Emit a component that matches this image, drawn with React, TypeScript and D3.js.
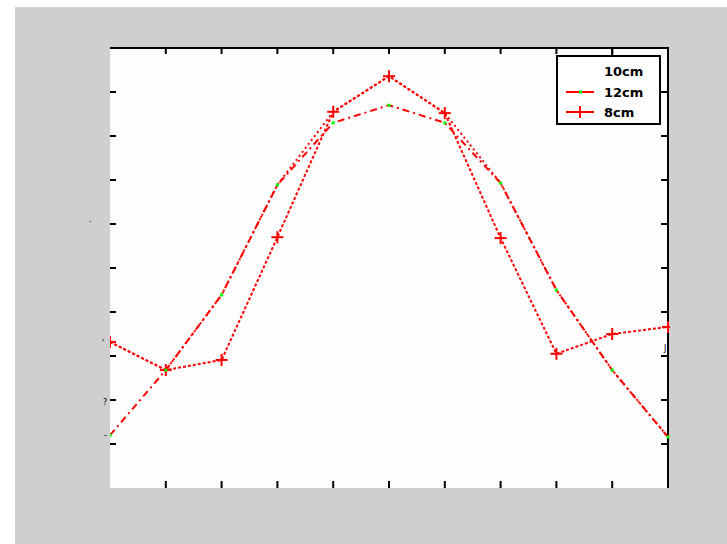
import React from "react";
import * as d3 from "d3";

const xIndex = [0, 1, 2, 3, 4, 5, 6, 7, 8, 9, 10];
const series10cm = [3.32, 2.68, 4.39, 6.89, 8.55, 9.36, 8.52, 6.93, 4.5, 2.68, 1.16];
const series12cm = [1.2, 2.68, 4.39, 6.89, 8.3, 8.7, 8.3, 6.93, 4.5, 2.68, 1.16];
const series8cm = [3.32, 2.68, 2.91, 5.7, 8.55, 9.36, 8.52, 5.68, 3.05, 3.5, 3.66];
const legendLabels = ["10cm", "12cm", "8cm"];
const yTicks = [1, 2, 3, 4, 5, 6, 7, 8, 9];
const xTicks = [1, 2, 3, 4, 5, 6, 7, 8, 9, 10];

export default function App() {
  const W = 727, H = 544;
  const L = 110, R = 668, T = 48, B = 488;
  const x = d3.scaleLinear().domain([0, 10]).range([L, R]);
  const y = d3.scaleLinear().domain([0, 10]).range([B, T]);
  const line = d3
    .line<number>()
    .x((_, i) => x(xIndex[i]))
    .y((d) => y(d));
  const red = "#ff0000";
  const plus = (cx: number, cy: number, k: string, s = 6) => (
    <g key={k} stroke={red} strokeWidth={2}>
      <line x1={cx - s} x2={cx + s} y1={cy} y2={cy} />
      <line x1={cx} x2={cx} y1={cy - s} y2={cy + s} />
    </g>
  );
  const lgX = 557, lgY = 56, lgW = 103, lgH = 68;
  const rows = [71, 92, 112];
  return (
    <svg
      width={W}
      height={H}
      style={{ position: "absolute", left: 0, top: 0, display: "block" }}
    >
      <rect x={0} y={0} width={W} height={H} fill="#ffffff" />
      <rect x={15} y={7} width={W - 15} height={H - 7} fill="#cfcfcf" />
      <rect x={L} y={T} width={R - L} height={B - T} fill="#fdfdfd" />
      <defs>
        <clipPath id="plotclip">
          <rect x={L} y={T} width={R - L + 2} height={B - T} />
        </clipPath>
      </defs>
      {/* axes */}
      <line x1={L} x2={R + 1} y1={T} y2={T} stroke="#000" strokeWidth={2} />
      <line x1={R} x2={R} y1={T} y2={B} stroke="#000" strokeWidth={2} />
      {xTicks.map((t) => (
        <g key={"xt" + t} stroke="#000" strokeWidth={2}>
          <line x1={x(t)} x2={x(t)} y1={T} y2={T + 6} />
          <line x1={x(t)} x2={x(t)} y1={B} y2={B - 7} />
        </g>
      ))}
      {yTicks.map((t) => (
        <g key={"yt" + t} stroke="#000" strokeWidth={2}>
          <line x1={L} x2={L + 6} y1={y(t)} y2={y(t)} />
          <line x1={R} x2={R - 7} y1={y(t)} y2={y(t)} />
        </g>
      ))}
      {/* degraded tick label fragments */}
      <g fontFamily="DejaVu Sans" fontSize={8} fill="#000">
        <text x={89} y={222}>.</text>
        <text x={102} y={346}>'</text>
        <text x={103} y={405}>?</text>
        <text x={104} y={438}>-</text>
        <text x={664} y={351}>J</text>
        <text x={664} y={440}>'</text>
      </g>
      {/* series */}
      <g clipPath="url(#plotclip)" fill="none">
        <path
          d={line(series10cm) || ""}
          stroke={red}
          strokeWidth={2}
          strokeDasharray="2,3"
        />
        <path
          d={line(series12cm) || ""}
          stroke={red}
          strokeWidth={2}
          strokeDasharray="7,4,2,4"
        />
        <path
          d={line(series8cm) || ""}
          stroke={red}
          strokeWidth={2}
          strokeDasharray="3,2"
        />
        {series8cm.map((v, i) => plus(x(xIndex[i]), y(v), "p" + i))}
        {series12cm.map((v, i) => (
          <rect
            key={"g" + i}
            x={x(xIndex[i]) - 1.5}
            y={y(v) - 1.5}
            width={3}
            height={3}
            fill="#00ff00"
          />
        ))}
      </g>
      {/* legend */}
      <rect
        x={lgX}
        y={lgY}
        width={lgW}
        height={lgH}
        fill="#ffffff"
        stroke="#000"
        strokeWidth={2}
      />
      <line x1={x(9)} x2={x(9)} y1={T} y2={lgY} stroke="#000" strokeWidth={2} />
      <line x1={lgX + lgW} x2={R} y1={y(9)} y2={y(9)} stroke="#000" strokeWidth={2} />
      <line x1={566} x2={594} y1={rows[1]} y2={rows[1]} stroke={red} strokeWidth={2} />
      <rect x={579} y={rows[1] - 1.5} width={3} height={3} fill="#00ff00" />
      <line x1={566} x2={594} y1={rows[2]} y2={rows[2]} stroke={red} strokeWidth={2} />
      {plus(580, rows[2], "lp")}
      <g fontFamily="DejaVu Sans" fontSize={13} fontWeight="bold" fill="#000">
        {legendLabels.map((lab, i) => (
          <text key={lab} x={604} y={rows[i]} dy="0.36em">
            {lab}
          </text>
        ))}
      </g>
    </svg>
  );
}
